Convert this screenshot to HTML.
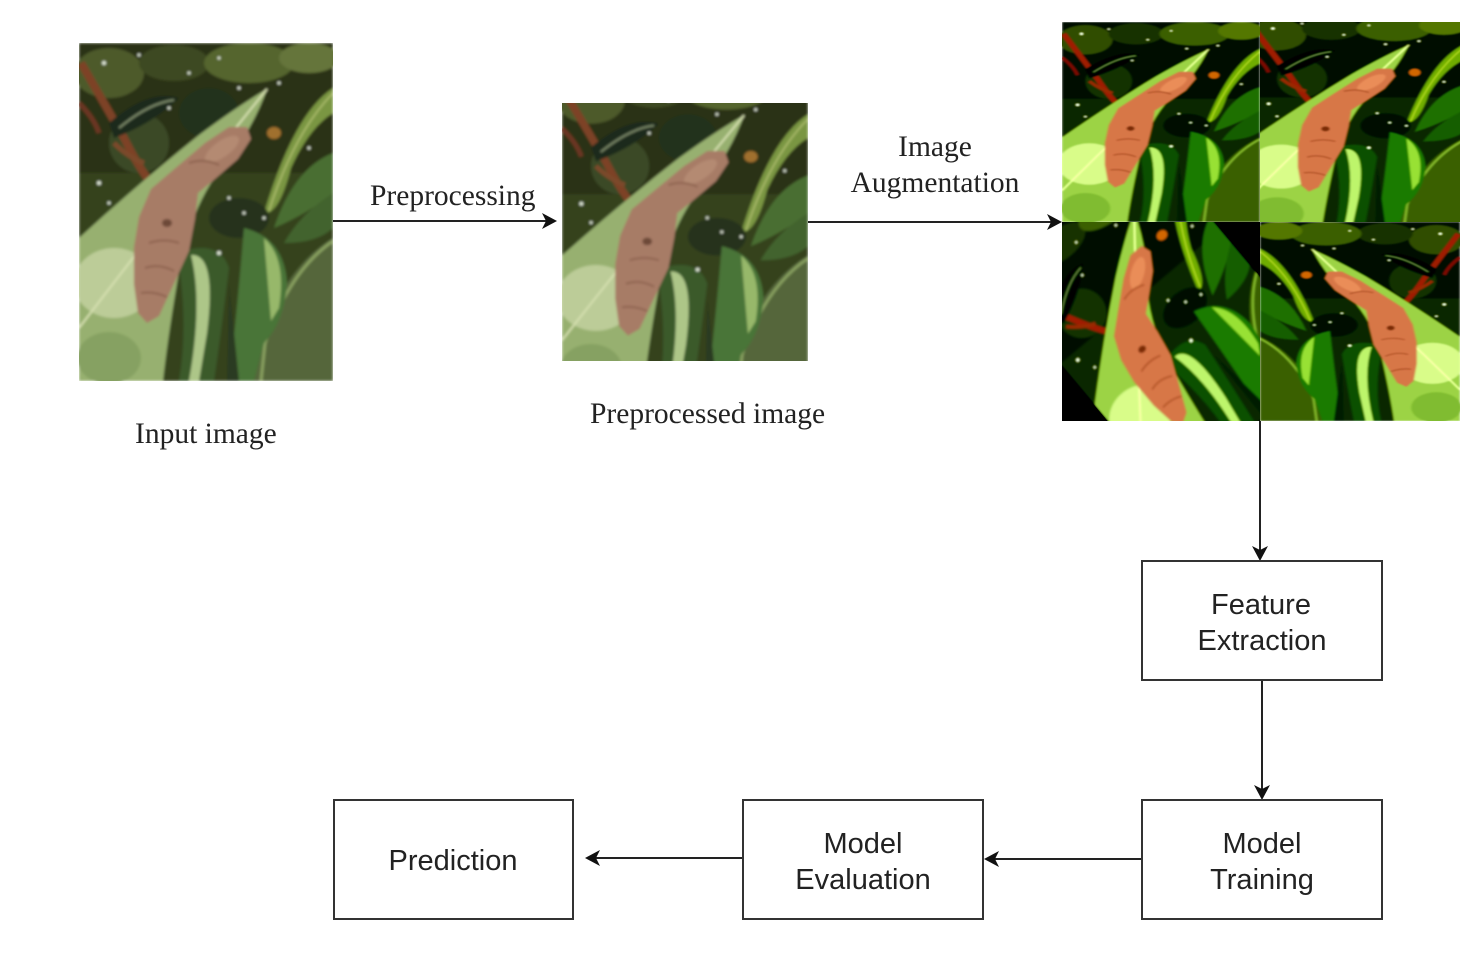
<!DOCTYPE html>
<html>
<head>
<meta charset="utf-8">
<style>
  html, body { margin:0; padding:0; background:#fff; }
  body { width:1479px; height:968px; position:relative; overflow:hidden; }
  .img { position:absolute; display:block; }
  .aug { filter: contrast(1.5) saturate(1.45) brightness(1.02); }
  .serif { font-family:"Liberation Serif", serif; font-size:29.5px; fill:#222; }
  .sans { font-family:"Liberation Sans", sans-serif; font-size:29px; fill:#222; }
</style>
</head>
<body>

<svg width="0" height="0" style="position:absolute">
  <defs>
    <filter id="soft" x="0" y="0" width="1" height="1">
      <feGaussianBlur stdDeviation="1.3"/>
    </filter>
    <symbol id="scene" viewBox="0 0 254 338" preserveAspectRatio="none">
      <g filter="url(#soft)">
        <rect width="254" height="338" fill="#34421f"/>
        <rect width="254" height="130" fill="#2a3318"/>
        <ellipse cx="30" cy="30" rx="35" ry="25" fill="#4d5a2c"/>
        <ellipse cx="95" cy="20" rx="35" ry="18" fill="#3d4a22"/>
        <ellipse cx="170" cy="20" rx="45" ry="20" fill="#55652e"/>
        <ellipse cx="230" cy="15" rx="30" ry="15" fill="#65743a"/>
        <ellipse cx="130" cy="70" rx="30" ry="25" fill="#22301a"/>
        <ellipse cx="60" cy="100" rx="30" ry="30" fill="#3a4a26"/>
        <path d="M2 20 Q25 60 45 95 Q60 125 72 140" stroke="#7d4228" stroke-width="8" fill="none"/>
        <path d="M0 60 Q15 75 20 90" stroke="#6a3620" stroke-width="5" fill="none"/>
        <path d="M35 100 Q50 115 65 120" stroke="#7b4a2a" stroke-width="5" fill="none"/>
        <path d="M30 80 Q70 45 100 55 Q75 80 35 95 Z" fill="#1f2b1a"/>
        <path d="M40 85 Q70 60 95 57" stroke="#7c8a6a" stroke-width="2" fill="none"/>
        <path d="M254 45 Q215 70 185 170 Q200 172 212 125 Q230 85 254 70 Z" fill="#7a9642"/>
        <path d="M254 50 Q215 90 190 168" stroke="#b0c070" stroke-width="1.5" fill="none"/>
        <ellipse cx="195" cy="90" rx="7" ry="6" fill="#a0702e"/>
        <path d="M254 110 Q215 125 195 185 Q230 170 254 150 Z" fill="#4a6e33"/>
        <path d="M254 150 Q222 170 205 200 Q238 200 254 185 Z" fill="#42642e"/>
        <ellipse cx="160" cy="175" rx="30" ry="20" fill="#26331c"/>
        <path d="M254 195 Q205 225 180 300 L175 338 L254 338 Z" fill="#55663a"/>
        <path d="M254 198 Q210 228 186 300 L182 338" stroke="#88a060" stroke-width="3" fill="none"/>
        <path d="M165 185 Q205 195 208 240 Q205 280 185 300 L175 338 L150 338 Q158 270 165 185 Z" fill="#4a7539"/>
        <path d="M185 195 Q208 215 200 265 L192 278 Q188 230 185 195 Z" fill="#97b86a"/>
        <path d="M98 210 Q140 195 150 225 Q142 290 135 338 L100 338 Q110 280 98 210 Z" fill="#3a5a2a"/>
        <path d="M112 212 Q138 210 128 290 L120 338 L110 338 Q124 260 112 212 Z" fill="#adc688"/>
        <path d="M150 240 L160 338 L148 338 Z" fill="#2a3a20"/>
        <path d="M0 195 Q60 140 120 92 Q160 62 188 46 Q172 92 132 140 Q108 178 98 240 Q88 300 84 338 L0 338 Z" fill="#97b070"/>
        <ellipse cx="35" cy="240" rx="40" ry="35" fill="#c6d3a2" opacity="0.8"/>
        <ellipse cx="30" cy="315" rx="32" ry="26" fill="#86a162"/>
        <path d="M0 285 Q80 180 188 46" stroke="#d6e0b0" stroke-width="2" fill="none"/>
        <path d="M168 84 L150 84 L126 100 L93 128 L72 146 L60 174 L55 204 L55 241 L59 270 L68 280 L80 273 L92 247 L110 208 L116 176 L119 150 L136 136 L159 116 L172 96 Z" fill="#a77c66"/>
        <ellipse cx="143" cy="106" rx="20" ry="8" fill="#b48a72" transform="rotate(-35 143 106)"/>
        <ellipse cx="88" cy="180" rx="5" ry="4" fill="#6d4a38"/>
        <path d="M70 200 Q85 195 100 200 M66 225 Q80 220 95 228 M62 250 Q75 248 88 254 M110 120 Q125 115 140 122" stroke="#8e6450" stroke-width="2" fill="none"/>
        <g fill="#e0e8d8">
          <circle cx="25" cy="20" r="2"/><circle cx="60" cy="12" r="1.5"/><circle cx="110" cy="30" r="1.5"/>
          <circle cx="140" cy="15" r="1.5"/><circle cx="160" cy="45" r="1.5"/><circle cx="200" cy="40" r="1.5"/>
          <circle cx="90" cy="65" r="1.5"/><circle cx="20" cy="140" r="2"/><circle cx="150" cy="155" r="1.5"/>
          <circle cx="165" cy="170" r="1.5"/><circle cx="140" cy="210" r="2"/><circle cx="185" cy="175" r="1.5"/>
          <circle cx="30" cy="160" r="1.5"/><circle cx="230" cy="105" r="1.5"/>
        </g>
      </g>
    </symbol>
  </defs>
</svg>

<!-- Input image -->
<svg class="img" style="left:79px;top:43px" width="254" height="338" viewBox="0 0 254 338" preserveAspectRatio="none">
  <use href="#scene" x="0" y="0" width="254" height="338"/>
</svg>

<!-- Preprocessed image (crop) -->
<svg class="img" style="left:562px;top:103px" width="246" height="258" viewBox="0 33 254 274" preserveAspectRatio="none">
  <use href="#scene" x="0" y="0" width="254" height="338"/>
</svg>

<!-- Augmented tiles -->
<svg class="img aug" style="left:1062px;top:22px" width="198" height="200" viewBox="0 0 198 200" preserveAspectRatio="none">
  <use href="#scene" x="0" y="0" width="198" height="200"/>
</svg>
<svg class="img aug" style="left:1260px;top:22px" width="200" height="200" viewBox="0 0 200 200" preserveAspectRatio="none">
  <g transform="translate(-8,-6) scale(1.06)">
    <use href="#scene" x="0" y="0" width="200" height="200"/>
  </g>
</svg>
<svg class="img aug" style="left:1062px;top:222px" width="198" height="199" viewBox="0 0 198 199">
  <rect width="198" height="199" fill="#000"/>
  <g transform="translate(99,99.5) rotate(-40) translate(-105,-140)">
    <use href="#scene" x="0" y="0" width="210" height="280"/>
  </g>
</svg>
<svg class="img aug" style="left:1260px;top:222px" width="200" height="199" viewBox="0 0 200 199">
  <g transform="translate(200,0) scale(-1,1)">
    <use href="#scene" x="0" y="0" width="200" height="199"/>
  </g>
</svg>

<!-- Diagram overlay -->
<svg class="img" style="left:0;top:0" width="1479" height="968" viewBox="0 0 1479 968">
  <g stroke="#222" stroke-width="2" fill="none">
    <line x1="333" y1="221" x2="548" y2="221"/>
    <line x1="808" y1="222" x2="1053" y2="222"/>
    <line x1="1260" y1="421" x2="1260" y2="552"/>
    <line x1="1262" y1="680" x2="1262" y2="791"/>
    <line x1="1142" y1="859" x2="993" y2="859"/>
    <line x1="743" y1="858" x2="594" y2="858"/>
  </g>
  <g fill="#111">
    <path d="M557 221 L542 213 L546 221 L542 229 Z"/>
    <path d="M1062 222 L1047 214 L1051 222 L1047 230 Z"/>
    <path d="M1260 561 L1252 546 L1260 550 L1268 546 Z"/>
    <path d="M1262 800 L1254 785 L1262 789 L1270 785 Z"/>
    <path d="M984 859 L999 851 L995 859 L999 867 Z"/>
    <path d="M585 858 L600 850 L596 858 L600 866 Z"/>
  </g>
  <g stroke="#333" stroke-width="2" fill="#fff">
    <rect x="1142" y="561" width="240" height="119"/>
    <rect x="1142" y="800" width="240" height="119"/>
    <rect x="743" y="800" width="240" height="119"/>
    <rect x="334" y="800" width="239" height="119"/>
  </g>

  <text class="serif" x="370" y="205">Preprocessing</text>
  <text class="serif" x="935" y="156" text-anchor="middle">Image</text>
  <text class="serif" x="935" y="192" text-anchor="middle">Augmentation</text>
  <text class="serif" x="135" y="443">Input image</text>
  <text class="serif" x="590" y="423">Preprocessed image</text>

  <text class="sans" x="1261" y="614" text-anchor="middle">Feature</text>
  <text class="sans" x="1262" y="650" text-anchor="middle">Extraction</text>
  <text class="sans" x="1262" y="853" text-anchor="middle">Model</text>
  <text class="sans" x="1262" y="889" text-anchor="middle">Training</text>
  <text class="sans" x="863" y="853" text-anchor="middle">Model</text>
  <text class="sans" x="863" y="889" text-anchor="middle">Evaluation</text>
  <text class="sans" x="453" y="870" text-anchor="middle">Prediction</text>
</svg>

</body>
</html>
